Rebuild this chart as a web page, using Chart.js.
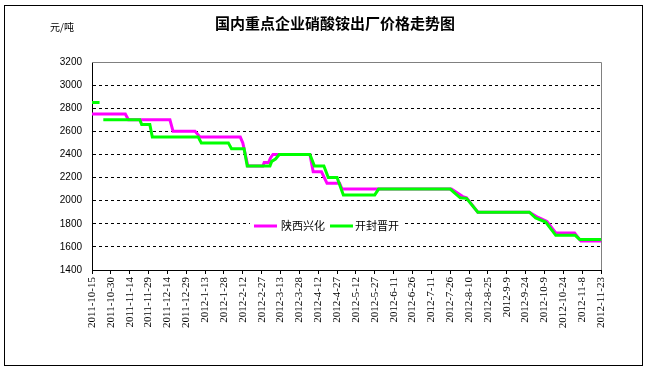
<!DOCTYPE html>
<html><head><meta charset="utf-8">
<script src="https://cdn.jsdelivr.net/npm/chart.js@4/dist/chart.umd.min.js"></script>
<style>html,body{margin:0;padding:0;background:#fff}#wrap{width:650px;height:372px;position:relative}</style>
</head><body><div id="wrap"><canvas id="c" width="650" height="372"></canvas></div>
<script>
const chartTitle = '国内重点企业硝酸铵出厂价格走势图';
const unitLabel = '元/吨';
const seriesNames = ['陕西兴化', '开封晋开'];
const seriesColors = ['#FF00FF', '#00FF00'];
const tickLabels = ['2011-10-15','2011-10-30','2011-11-14','2011-11-29','2011-12-14','2011-12-29',
  '2012-1-13','2012-1-28','2012-2-12','2012-2-27','2012-3-13','2012-3-28','2012-4-12','2012-4-27',
  '2012-5-12','2012-5-27','2012-6-11','2012-6-26','2012-7-11','2012-7-26','2012-8-10','2012-8-25',
  '2012-9-9','2012-9-24','2012-10-9','2012-10-24','2012-11-8','2012-11-23'];
const yMin = 1400, yMax = 3200, yStep = 200;
const dayStep = 15;
// days since 2011-10-15
const xianDays   = [0, 26.5, 29, 62, 64.5, 82, 86, 118, 120, 124, 136, 137, 140.5, 142, 144, 173.4, 176, 182.6, 187, 197, 199, 286, 295, 298, 307, 348, 355, 362, 369, 384, 389, 405];
const xianPrices = [2750, 2750, 2700, 2700, 2600, 2600, 2550, 2550, 2500, 2300, 2300, 2330, 2330, 2370, 2400, 2400, 2250, 2250, 2150, 2150, 2100, 2100, 2035, 2025, 1900, 1900, 1855, 1820, 1720, 1720, 1650, 1650];
const kaifengDays   = [0, 6, 7, 9, 38, 39.5, 46, 48, 84.5, 87, 108.5, 111, 121, 123.5, 141.6, 143, 146, 149, 173.4, 177, 184.5, 188, 195, 200, 225, 228, 285, 293, 298, 307, 348, 353, 361, 369, 384.5, 388, 405];
const kaifengPrices = [2850, 2850, null, 2700, 2700, 2660, 2660, 2550, 2550, 2500, 2500, 2450, 2450, 2300, 2300, 2340, 2360, 2400, 2400, 2300, 2300, 2200, 2200, 2050, 2050, 2100, 2100, 2025, 2020, 1900, 1900, 1850, 1815, 1700, 1700, 1665, 1665];

const toPts = (d, p) => d.map((x, i) => ({x: x, y: p[i]}));

const PLOT_L = 92, PLOT_R = 601, PLOT_B = 270;

const decor = {
  id: 'decor',
  beforeDatasetsDraw(chart) {
    const {ctx, chartArea: a} = chart;
    ctx.save();
    ctx.strokeStyle = '#808080';
    ctx.lineWidth = 1;
    ctx.beginPath();
    ctx.moveTo(a.left, Math.round(a.top) + 0.5);
    ctx.lineTo(Math.round(a.right) + 0.5, Math.round(a.top) + 0.5);
    ctx.lineTo(Math.round(a.right) + 0.5, a.bottom);
    ctx.stroke();
    ctx.restore();
  },
  afterDraw(chart) {
    const {ctx} = chart;
    ctx.save();
    ctx.strokeStyle = '#000';
    ctx.lineWidth = 1;
    ctx.strokeRect(4.5, 5.5, 638, 360);
    ctx.fillStyle = '#000';
    ctx.font = 'bold 15px "Noto Sans CJK SC"';
    ctx.textAlign = 'center';
    ctx.textBaseline = 'middle';
    ctx.fillText(chartTitle, 335, 23);
    ctx.font = '10px "Noto Sans CJK SC"';
    ctx.fillText(unitLabel, 62, 27);
    ctx.fillStyle = '#fff';
    ctx.fillRect(250, 219, 153, 14);
    const items = [[254, 281], [330, 355]];
    chart.data.datasets.forEach((ds, i) => {
      const [lx, tx] = items[i];
      ctx.strokeStyle = ds.borderColor;
      ctx.lineWidth = 3;
      ctx.beginPath();
      ctx.moveTo(lx, 226);
      ctx.lineTo(lx + 23, 226);
      ctx.stroke();
      ctx.fillStyle = '#000';
      ctx.font = '11px "Noto Sans CJK SC"';
      ctx.textAlign = 'left';
      ctx.fillText(ds.label, tx, 226);
    });
    ctx.restore();
  }
};

new Chart(document.getElementById('c'), {
  type: 'line',
  data: {
    datasets: [
      {label: seriesNames[0], data: toPts(xianDays, xianPrices), borderColor: seriesColors[0], backgroundColor: seriesColors[0], borderWidth: 3, pointRadius: 0, tension: 0, order: 2, spanGaps: false},
      {label: seriesNames[1], data: toPts(kaifengDays, kaifengPrices), borderColor: seriesColors[1], backgroundColor: seriesColors[1], borderWidth: 3, pointRadius: 0, tension: 0, order: 1, spanGaps: false}
    ]
  },
  options: {
    responsive: false,
    animation: false,
    devicePixelRatio: 1,
    layout: {padding: {left: 0, right: 650 - PLOT_R, top: 62, bottom: 0}},
    plugins: {legend: {display: false}, title: {display: false}, tooltip: {enabled: false}},
    scales: {
      x: {
        type: 'linear',
        min: 0, max: (tickLabels.length - 1) * dayStep,
        afterFit: s => { s.height = 372 - PLOT_B; },
        ticks: {
          stepSize: dayStep, autoSkip: false, maxRotation: 90, minRotation: 90,
          color: '#000', padding: 3,
          font: {family: '"Liberation Serif"', size: 11},
          callback: v => tickLabels[Math.round(v / dayStep)]
        },
        grid: {drawOnChartArea: false, drawTicks: true, tickLength: 4, color: '#000', lineWidth: 1},
        border: {display: true, color: '#000', width: 1}
      },
      y: {
        min: yMin, max: yMax,
        afterFit: s => { s.width = PLOT_L; },
        ticks: {stepSize: yStep, color: '#000', padding: 10, font: {family: '"Liberation Sans"', size: 10},
          callback: v => String(v)},
        grid: {
          drawTicks: false, lineWidth: 1,
          color: c => (c.tick && (c.tick.value === yMin || c.tick.value === yMax)) ? 'rgba(0,0,0,0)' : '#000'
        },
        border: {display: true, color: '#000', width: 1, dash: [3, 3]}
      }
    }
  },
  plugins: [decor]
});
</script></body></html>
